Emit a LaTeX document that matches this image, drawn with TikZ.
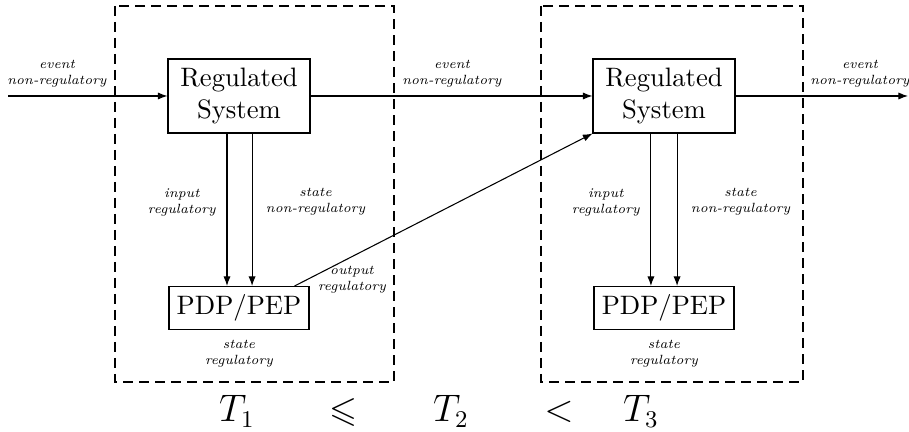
\documentclass[tikz,border=0pt]{standalone}
\usepackage{amssymb}
\usetikzlibrary{positioning,arrows.meta}
\tikzset{
  sysbox/.style={draw, align=center, minimum width=53.25pt, minimum height=27.75pt, inner sep=0pt},
  pepbox/.style={draw, minimum width=52.5pt, minimum height=16.1pt, inner sep=0pt},
  lbl/.style={font=\tiny\itshape, align=center, inner sep=1pt},
  regionbox/.style={draw, dash pattern=on 3.75pt off 2.25pt},
  timelbl/.style={font=\fontsize{13.5}{16}\selectfont, anchor=base, inner sep=0pt},
}
\begin{document}
\begin{tikzpicture}[x=0.375pt, y=-0.375pt]
      \useasboundingbox (0,0) rectangle (909,432);
      \draw[regionbox] (115,6) rectangle (394,382);
      \draw[regionbox] (541,6) rectangle (803,382);
      \draw
        (239,96) node[sysbox] (reg1){Regulated\\System}
        (664,96) node[sysbox] (reg2){Regulated\\System}
        (239,308) node[pepbox] (pep1){PDP/PEP}
        (664,308) node[pepbox] (pep2){PDP/PEP};
      \coordinate (src) at (8,96);
      \coordinate (snk) at (908,96);
      \node[lbl, anchor=south] (ev1) at (57,90) {event\\non-regulatory};
      \node[lbl, anchor=south] (ev2) at (452,90) {event\\non-regulatory};
      \node[lbl, anchor=south] (ev3) at (860,90) {event\\non-regulatory};
      \node[lbl, below=2.6pt of pep1] (st1) {state\\regulatory};
      \node[lbl, below=2.6pt of pep2] (st2) {state\\regulatory};
      \node[lbl] (outp) at (352,280) {output\\regulatory};
      \begin{scope}[-{Latex[length=3.6pt,width=2.7pt]}]
        \draw (src) to (reg1);
        \draw (reg1) to (reg2);
        \draw (reg2) to (snk);
        \draw ([xshift=-4.5pt]reg1.south) to node[lbl, left=3pt, pos=.45] (in1){input\\regulatory} ([xshift=-4.5pt]pep1.north);
        \draw ([xshift=4.9pt]reg1.south) to node[lbl, right=4pt, pos=.45] (sn1){state\\non-regulatory} ([xshift=4.9pt]pep1.north);
        \draw ([xshift=-4.9pt]reg2.south) to node[lbl, left=3pt, pos=.45] (in2){input\\regulatory} ([xshift=-4.9pt]pep2.north);
        \draw ([xshift=4.9pt]reg2.south) to node[lbl, right=4pt, pos=.45] (sn2){state\\non-regulatory} ([xshift=4.9pt]pep2.north);
        \draw ([xshift=-5.6pt]pep1.north east) to (reg2.south west);
      \end{scope}
      \node[timelbl] (t1) at (237,422) {$T_1$};
      \node[timelbl] (le) at (343,422) {$\leqslant$};
      \node[timelbl] (t2) at (451,422) {$T_2$};
      \node[timelbl] (lt) at (559,422) {$<$};
      \node[timelbl] (t3) at (641,422) {$T_3$};
    \end{tikzpicture}
\end{document}
